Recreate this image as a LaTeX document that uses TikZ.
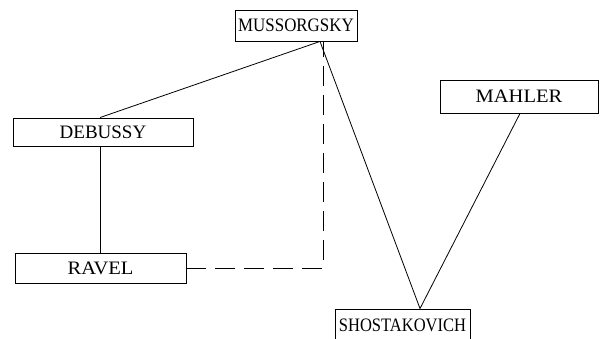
\documentclass[tikz,border=0pt]{standalone}
\usepackage{fontspec}
\setmainfont{Liberation Serif}
\begin{document}
\begin{tikzpicture}[x=1pt,y=-1pt,
  namebox/.style={draw, line width=0.9pt, inner sep=0pt, font=\fontsize{19}{22}\selectfont},
  link/.style={line width=0.8pt},
  dashlink/.style={line width=0.8pt, dash pattern=on 20pt off 9pt}]
\useasboundingbox (0,0) rectangle (613,339);
\clip (0,0) rectangle (613,339);
\node[namebox, minimum width=122pt, minimum height=31pt] (m) at (296,25.5) {\scalebox{0.89}[1]{MUSSORGSKY}};
\node[namebox, minimum width=180pt, minimum height=28pt] (d) at (103,132) {DEBUSSY};
\node[namebox, minimum width=171pt, minimum height=30pt] (r) at (100.5,268) {\scalebox{1.08}[1]{RAVEL}};
\node[namebox, minimum width=158pt, minimum height=33pt] (ma) at (519,96.5) {\scalebox{1.08}[1]{MAHLER}};
\node[namebox, minimum width=135pt, minimum height=36pt, text depth=0pt] (s) at (402.5,327) {\raisebox{4pt}{\scalebox{0.87}[1]{SHOSTAKOVICH}}};
\coordinate (mt) at ([xshift=24pt]m.south);
\coordinate (mb) at ([xshift=27pt]m.south);
\draw[link] (mt) -- ([xshift=-3pt]d.north);
\draw[link] ([xshift=-3pt]d.south) -- ([xshift=-3pt]d.south |- r.north);
\draw[link] (mt) -- ([xshift=17.5pt]s.north);
\draw[link] ([xshift=1pt]ma.south) -- ([xshift=17.5pt]s.north);
\draw[dashlink] (r.east) -| (mb);
\end{tikzpicture}
\end{document}
